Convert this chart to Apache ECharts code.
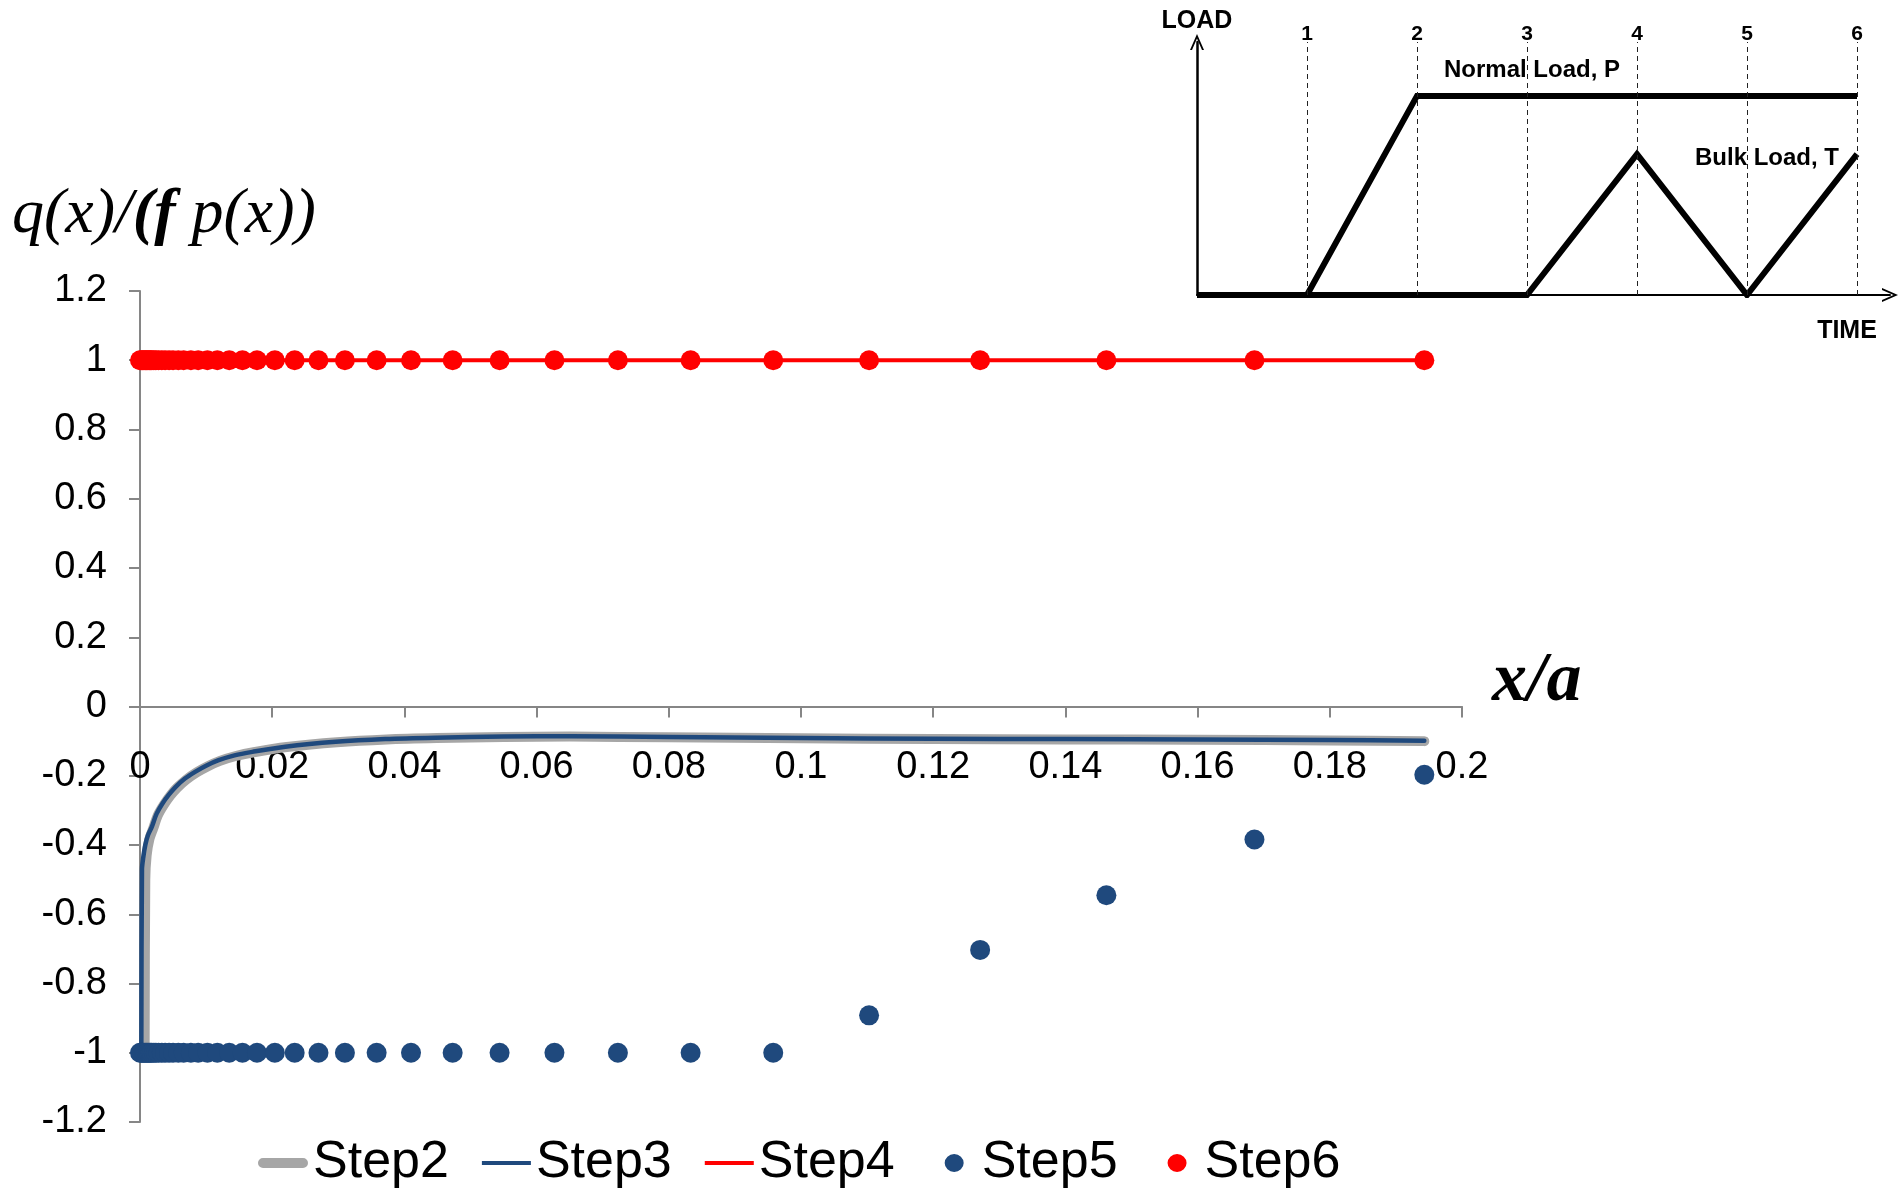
<!DOCTYPE html>
<html><head><meta charset="utf-8">
<script src="https://cdn.jsdelivr.net/npm/echarts/dist/echarts.min.js"></script>
<style>html,body{margin:0;padding:0;background:#fff}#c{width:1902px;height:1193px}</style>
</head><body><div id="c"></div>
<script>
// ---- main chart data ----
const seriesNames = ['Step2', 'Step3', 'Step4', 'Step5', 'Step6'];
const xDots = [0, 0.0002, 0.0004, 0.0006, 0.0008, 0.0010, 0.0012, 0.0014, 0.0016, 0.0018,
  0.0021, 0.0024, 0.0028, 0.0033, 0.0038, 0.0044, 0.0050, 0.0058, 0.0066, 0.0077,
  0.0088, 0.0102, 0.0117, 0.0135, 0.0155, 0.0177, 0.0204, 0.0234, 0.0270, 0.0310,
  0.0358, 0.0410, 0.0473, 0.0544, 0.0627, 0.0723, 0.0833, 0.0958, 0.1103, 0.1271,
  0.1462, 0.1686, 0.1943];
const yStep5 = [-1, -1, -1, -1, -1, -1, -1, -1, -1, -1,
  -1, -1, -1, -1, -1, -1, -1, -1, -1, -1,
  -1, -1, -1, -1, -1, -1, -1, -1, -1, -1,
  -1, -1, -1, -1, -1, -1, -1, -1, -0.892, -0.703,
  -0.545, -0.384, -0.197];
const yStep6 = [1, 1, 1, 1, 1, 1, 1, 1, 1, 1,
  1, 1, 1, 1, 1, 1, 1, 1, 1, 1,
  1, 1, 1, 1, 1, 1, 1, 1, 1, 1,
  1, 1, 1, 1, 1, 1, 1, 1, 1, 1,
  1, 1, 1];
const xStep4 = [0, 0.1943];
const yStep4 = [1, 1];
const xStep3 = [0.0002, 0.0003, 0.0005, 0.0008, 0.0012, 0.0018, 0.0025, 0.0034, 0.0044, 0.0054,
  0.0068, 0.0084, 0.0100, 0.0119, 0.0143, 0.0170, 0.0220, 0.0296, 0.0371, 0.0447,
  0.055, 0.065, 0.08, 0.10, 0.12, 0.14, 0.16, 0.18, 0.1943];
const yStep3 = [-1.0, -0.47, -0.435, -0.400, -0.372, -0.347, -0.310, -0.280, -0.254, -0.232,
  -0.208, -0.188, -0.171, -0.155, -0.141, -0.131, -0.116, -0.102, -0.094, -0.090,
  -0.087, -0.086, -0.088, -0.091, -0.093, -0.094, -0.095, -0.097, -0.099];
const xStep2 = [0.0007, 0.0008, 0.0010, 0.0014, 0.0020, 0.0027, 0.0036, 0.0046, 0.0056, 0.0070,
  0.0086, 0.0102, 0.0121, 0.0145, 0.0172, 0.0222, 0.0298, 0.0373, 0.0449,
  0.055, 0.065, 0.08, 0.10, 0.12, 0.14, 0.16, 0.18, 0.1943];
const yStep2 = [-1.0, -0.50, -0.430, -0.385, -0.352, -0.314, -0.284, -0.257, -0.235, -0.211,
  -0.190, -0.173, -0.157, -0.143, -0.132, -0.117, -0.103, -0.095, -0.091,
  -0.088, -0.087, -0.089, -0.092, -0.094, -0.095, -0.096, -0.098, -0.100];

// ---- inset (load history) data ----
const loadTime = [0, 1, 2, 3, 4, 5, 6];
const normalLoad = [0, 0, 0.787, 0.787, 0.787, 0.787, 0.787];
const bulkLoad = [0, 0, 0, 0, 0.557, 0, 0.557];
const stageMarks = [1, 2, 3, 4, 5, 6];

const zip = (xs, ys) => xs.map((x, i) => [x, ys[i]]);
const SANS = '"Liberation Sans", Arial, sans-serif';
const SERIF = '"Liberation Serif", "Times New Roman", serif';
const AX = '#868686';
const fmt = v => String(+(+v).toFixed(2));
const chevron = 'path://M0,16 L7,0 L14,16 L12,16 L7,4.5 L2,16 Z';
// legend icons drawn inside a 50x18 box (tiny corner specks fix the box extent)
const BOX = 'M0,0 L0.01,0 L0.01,0.01 Z M49.99,17.99 L50,17.99 L50,18 Z ';
const iconThick = 'path://' + BOX + 'M5,4 L45,4 A5,5 0 0 1 45,14 L5,14 A5,5 0 0 1 5,4 Z';
const iconThin = 'path://' + BOX + 'M1,7 L50,7 L50,11 L1,11 Z';
const iconDot = 'path://' + BOX + 'M18,9 A9,9 0 1 1 37,9 A9,9 0 1 1 18,9 Z';

const chart = echarts.init(document.getElementById('c'), null, {renderer: 'canvas'});
chart.setOption({
  animation: false,
  backgroundColor: '#fff',
  grid: [
    {left: 140, right: 440, top: 291, bottom: 71, containLabel: false, outerBoundsMode: 'none'},
    {left: 1197, top: 42, width: 693, height: 253, containLabel: false, outerBoundsMode: 'none'}
  ],
  xAxis: [
    {
      type: 'value', gridIndex: 0, min: 0, max: 0.2, interval: 0.02, position: 'bottom', offset: -415.5,
      axisLine: {show: true, onZero: false, lineStyle: {color: AX, width: 2}},
      axisTick: {show: true, inside: false, length: 11, lineStyle: {color: AX, width: 2}},
      axisLabel: {show: true, fontSize: 38, fontFamily: SANS, color: '#000', margin: 42, formatter: fmt},
      splitLine: {show: false},
      name: 'x/a', nameLocation: 'end', nameGap: 30,
      nameTextStyle: {fontFamily: SERIF, fontStyle: 'italic', fontWeight: 'bold', fontSize: 70, color: '#000',
        verticalAlign: 'bottom', lineHeight: 50}
    },
    {
      type: 'value', gridIndex: 1, min: 0, max: 6.3,
      axisLine: {show: true, onZero: false, lineStyle: {color: '#000', width: 2}, symbol: ['none', chevron], symbolSize: [14, 16]},
      axisTick: {show: false}, axisLabel: {show: false}, splitLine: {show: false}
    }
  ],
  yAxis: [
    {
      type: 'value', gridIndex: 0, min: -1.2, max: 1.2, interval: 0.2,
      axisLine: {show: true, onZero: false, lineStyle: {color: AX, width: 2}},
      axisTick: {show: true, inside: false, length: 11, lineStyle: {color: AX, width: 2}},
      axisLabel: {show: true, fontSize: 38, fontFamily: SANS, color: '#000', margin: 33, formatter: fmt},
      splitLine: {show: false}
    },
    {
      type: 'value', gridIndex: 1, min: 0, max: 1,
      axisLine: {show: true, onZero: false, lineStyle: {color: '#000', width: 2.5}, symbol: ['none', chevron], symbolSize: [14, 16]},
      axisTick: {show: false}, axisLabel: {show: false}, splitLine: {show: false},
      name: 'LOAD', nameLocation: 'end', nameGap: 8,
      nameTextStyle: {fontFamily: SANS, fontWeight: 'bold', fontSize: 25, color: '#000'}
    }
  ],
  legend: {
    data: [
      {name: 'Step2', icon: iconThick},
      {name: 'Step3', icon: iconThin},
      {name: 'Step4', icon: iconThin},
      {name: 'Step5', icon: iconDot},
      {name: 'Step6', icon: iconDot}
    ],
    left: 258, top: 1137, padding: 0, itemWidth: 50, itemHeight: 18, itemGap: 32,
    symbolKeepAspect: false,
    textStyle: {fontSize: 52, fontFamily: SANS, color: '#000'},
    selectedMode: false
  },
  graphic: [
    {type: 'text', left: 12, top: 183, style: {
      text: '{a|q(x)/}{b|(f}{a| p(x))}',
      rich: {
        a: {fontFamily: SERIF, fontStyle: 'italic', fontSize: 64, fill: '#000'},
        b: {fontFamily: SERIF, fontStyle: 'italic', fontWeight: 'bold', fontSize: 64, fill: '#000'}
      }
    }},
    {type: 'text', x: 1532, y: 70, z: -1, style: {text: 'Normal Load, P', fontFamily: SANS, fontWeight: 'bold', fontSize: 24, fill: '#000', align: 'center', verticalAlign: 'middle'}},
    {type: 'text', x: 1767, y: 158, z: -1, style: {text: 'Bulk Load, T', fontFamily: SANS, fontWeight: 'bold', fontSize: 24, fill: '#000', align: 'center', verticalAlign: 'middle'}},
    {type: 'text', x: 1847, y: 331, style: {text: 'TIME', fontFamily: SANS, fontWeight: 'bold', fontSize: 25, fill: '#000', align: 'center', verticalAlign: 'middle'}}
  ],
  series: [
    {name: 'Step2', type: 'line', xAxisIndex: 0, yAxisIndex: 0, data: zip(xStep2, yStep2), symbol: 'none', showSymbol: false,
      smooth: 0.3, lineStyle: {color: '#A6A6A6', width: 10, cap: 'round', join: 'round'}, itemStyle: {color: '#A6A6A6'}, z: 2},
    {name: 'Step3', type: 'line', xAxisIndex: 0, yAxisIndex: 0, data: zip(xStep3, yStep3), symbol: 'none', showSymbol: false,
      smooth: 0.3, lineStyle: {color: '#1F497D', width: 4.5, cap: 'round', join: 'round'}, itemStyle: {color: '#1F497D'}, z: 3},
    {name: 'Step4', type: 'line', xAxisIndex: 0, yAxisIndex: 0, data: zip(xStep4, yStep4), symbol: 'none', showSymbol: false,
      lineStyle: {color: '#FF0000', width: 4}, itemStyle: {color: '#FF0000'}, z: 4},
    {name: 'Step5', type: 'scatter', xAxisIndex: 0, yAxisIndex: 0, data: zip(xDots, yStep5), symbol: 'circle', symbolSize: 20,
      itemStyle: {color: '#1F497D', opacity: 1}, z: 5},
    {name: 'Step6', type: 'scatter', xAxisIndex: 0, yAxisIndex: 0, data: zip(xDots, yStep6), symbol: 'circle', symbolSize: 20,
      itemStyle: {color: '#FF0000', opacity: 1}, z: 6},
    {name: 'Normal Load, P', type: 'line', xAxisIndex: 1, yAxisIndex: 1, data: zip(loadTime, normalLoad), symbol: 'none',
      lineStyle: {color: '#000', width: 6, join: 'miter', cap: 'butt'}, z: 3,
      markLine: {
        silent: true, symbol: ['none', 'none'],
        lineStyle: {color: '#222', width: 1, type: [5, 4]},
        label: {show: true, position: 'end', distance: -3, formatter: p => String(p.value), fontFamily: SANS, fontWeight: 'bold', fontSize: 21, color: '#000'},
        data: stageMarks.map(t => ({xAxis: t}))
      }},
    {name: 'Bulk Load, T', type: 'line', xAxisIndex: 1, yAxisIndex: 1, data: zip(loadTime, bulkLoad), symbol: 'none',
      lineStyle: {color: '#000', width: 6, join: 'miter', cap: 'butt'}, z: 3}
  ]
});
</script>
</body></html>
